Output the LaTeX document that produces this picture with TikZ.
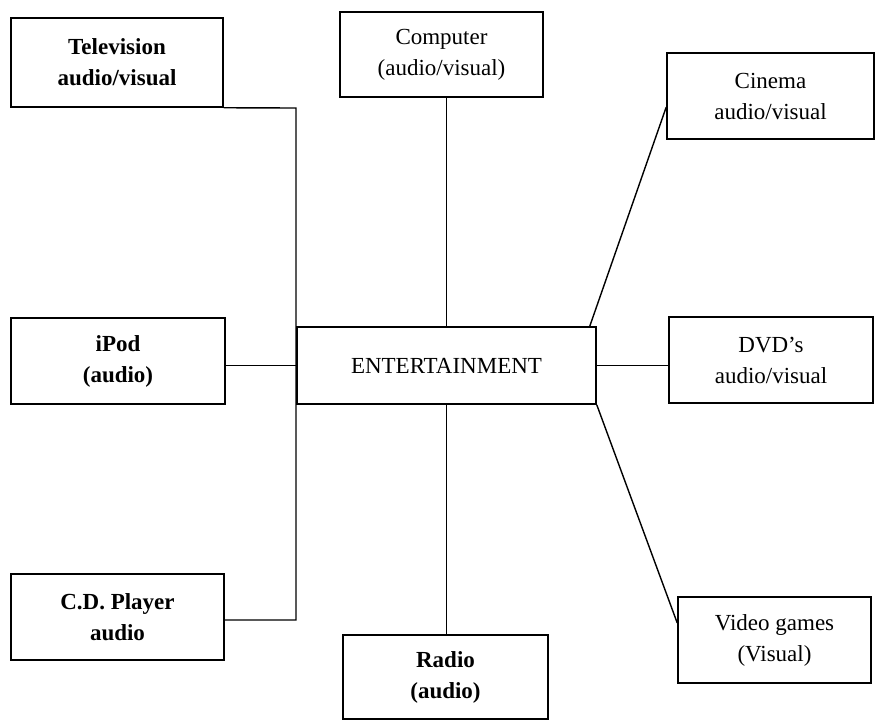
\documentclass[tikz,border=0pt]{standalone}
\usepackage{fontspec}
\setmainfont{Liberation Serif}
\usetikzlibrary{calc}
\begin{document}
\begin{tikzpicture}[x=1pt,y=-1pt,
  box/.style={draw, line width=1.5pt, rectangle, inner sep=0pt, align=center,
    font=\fontsize{23}{31}\selectfont},
  bbox/.style={box, font=\fontsize{23}{31}\selectfont\bfseries},
  conn/.style={line width=1.4pt}]
\useasboundingbox[fill=white] (0,0) rectangle (879,724);
\node[bbox, minimum width=212pt, minimum height=89pt] (tv) at (117,62.5) {Television\\audio/visual};
\node[box, minimum width=203pt, minimum height=85pt] (comp) at (441.5,54.5) {Computer\\(audio/visual)};
\node[box, minimum width=207pt, minimum height=86pt] (cin) at (770.5,96) {Cinema\\audio/visual};
\node[bbox, minimum width=214pt, minimum height=86pt] (ipod) at (118,361) {iPod\\(audio)};
\node[box, minimum width=299pt, minimum height=77pt] (ent) at (446.5,365.5) {ENTERTAINMENT};
\node[box, minimum width=204pt, minimum height=86pt] (dvd) at (771,360) {DVD's\\audio/visual};
\node[bbox, minimum width=213pt, minimum height=86pt] (cd) at (117.5,617) {C.D. Player\\audio};
\node[bbox, minimum width=205pt, minimum height=84pt] (radio) at (445.5,677) {Radio\\(audio)};
\node[box, minimum width=193pt, minimum height=86pt] (vg) at (774.5,640) {Video games\\(Visual)};
\coordinate (sp1) at (296,108);
\coordinate (sp2) at (296,620);
\draw[conn] (tv.south east) -- (sp1) -- (sp2) -- (cd.east |- sp2);
\draw[conn] (ipod.east |- ent.west) -- (ent.west);
\draw[conn] (ent.north) -- (ent.north |- comp.south);
\draw[conn] (ent.south) -- (ent.south |- radio.north);
\draw[conn] (ent.east) -- (ent.east -| dvd.west);
\draw[conn] ([xshift=-7pt]ent.north east) -- ([yshift=-11pt]cin.west);
\draw[conn] (ent.south east) -- ([yshift=17pt]vg.west);
\end{tikzpicture}
\end{document}
